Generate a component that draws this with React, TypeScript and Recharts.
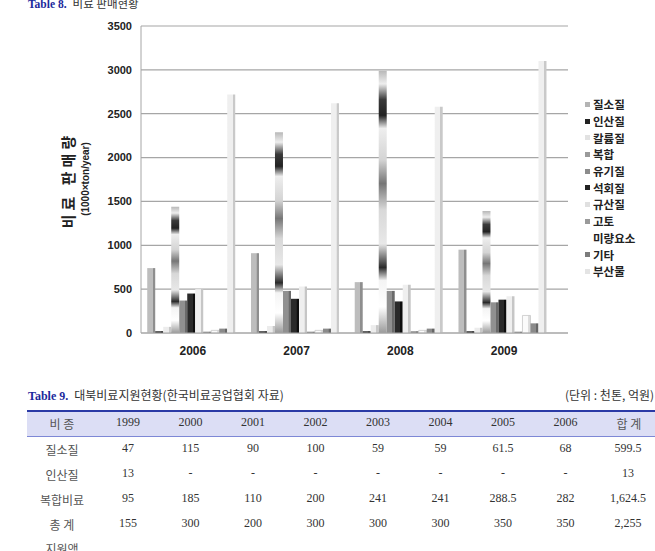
import React from 'react';
import { BarChart, Bar, XAxis, YAxis, CartesianGrid } from 'recharts';

// 비료 판매현황 (1000 ton / year)
const years = ['2006', '2007', '2008', '2009'];
const nitrogen = [740, 910, 580, 950];
const phosphate = [20, 20, 20, 20];
const potassium = [70, 80, 90, 60];
const compound = [1440, 2290, 2990, 1390];
const organic = [370, 480, 480, 350];
const lime = [450, 390, 360, 380];
const silicate = [500, 530, 550, 420];
const magnesia = [15, 15, 20, 15];
const trace = [30, 30, 30, 200];
const others = [50, 50, 50, 110];
const byproduct = [2720, 2620, 2580, 3100];
const yTicks = [0, 500, 1000, 1500, 2000, 2500, 3000, 3500];

// 대북비료지원현황
const tableYears = ['1999', '2000', '2001', '2002', '2003', '2004', '2005', '2006'];
const rowNitrogen = ['47', '115', '90', '100', '59', '59', '61.5', '68', '599.5'];
const rowPhosphate = ['13', '-', '-', '-', '-', '-', '-', '-', '13'];
const rowCompound = ['95', '185', '110', '200', '241', '241', '288.5', '282', '1,624.5'];
const rowTotal = ['155', '300', '200', '300', '300', '300', '350', '350', '2,255'];

const series = [
  { key: 'nitrogen', name: '질소질', values: nitrogen, fill: 'url(#gNitrogen)', swatch: '#b4b4b4' },
  { key: 'phosphate', name: '인산질', values: phosphate, fill: 'url(#gPhosphate)', swatch: '#222' },
  { key: 'potassium', name: '칼륨질', values: potassium, fill: 'url(#gPotassium)', swatch: '#e2e2e2' },
  { key: 'compound', name: '복합', values: compound, fill: 'url(#gCompound)', swatch: '#9a9a9a' },
  { key: 'organic', name: '유기질', values: organic, fill: 'url(#gOrganic)', swatch: '#8c8c8c' },
  { key: 'lime', name: '석회질', values: lime, fill: 'url(#gLime)', swatch: '#222' },
  { key: 'silicate', name: '규산질', values: silicate, fill: 'url(#gSilicate)', swatch: '#e0e0e0' },
  { key: 'magnesia', name: '고토', values: magnesia, fill: 'url(#gMagnesia)', swatch: '#9a9a9a' },
  { key: 'trace', name: '미량요소', values: trace, fill: 'url(#gTrace)', swatch: '#ffffff' },
  { key: 'others', name: '기타', values: others, fill: 'url(#gOthers)', swatch: '#7c7c7c' },
  { key: 'byproduct', name: '부산물', values: byproduct, fill: 'url(#gByproduct)', swatch: '#e4e4e4' },
];

const data = years.map((year, i) => {
  const row: Record<string, any> = { year };
  series.forEach((s) => {
    row[s.key] = s.values[i];
  });
  return row;
});

const KR = "'Noto Sans CJK KR', 'Noto Sans', sans-serif";
const SANS = "'Liberation Sans', Arial, sans-serif";
const SERIF = "'Liberation Serif', 'Times New Roman', serif";

// flat face with a darker strip on the right side
const sideShade = (id: string, base: string, side: string) => (
  <linearGradient id={id} key={id} x1="0" y1="0" x2="1" y2="0">
    <stop offset="0" stopColor={base} />
    <stop offset="0.68" stopColor={base} />
    <stop offset="0.72" stopColor={side} />
    <stop offset="1" stopColor={side} />
  </linearGradient>
);

const Legend = () => (
  <div style={{ position: 'absolute', left: 585, top: 96, fontFamily: KR, fontSize: 11.5, fontWeight: 700, color: '#222' }}>
    {series.map((s) => (
      <div key={s.key} style={{ height: 16.7, display: 'flex', alignItems: 'center' }}>
        <span style={{ width: 5, height: 5, background: s.swatch, marginRight: 3, display: 'inline-block' }} />
        <span>{s.name}</span>
      </div>
    ))}
  </div>
);

const cell = (text: string, center: number, font: string) => (
  <div
    key={center}
    style={{ position: 'absolute', left: center - 31, width: 62, textAlign: 'center', fontFamily: font, whiteSpace: 'nowrap' }}
  >
    {text}
  </div>
);

const colCenters = [62, 128, 190.5, 253, 315.5, 378, 440.5, 503, 565.5, 628];

const TableRow = ({ top, label, values }: { top: number; label: string; values: string[] }) => (
  <div style={{ position: 'absolute', left: 0, top, width: 655, height: 16, fontSize: 12, color: '#333' }}>
    <div style={{ position: 'absolute', left: 22, width: 80, textAlign: 'center', fontFamily: KR, color: '#555' }}>{label}</div>
    {values.map((v, i) => cell(v, colCenters[i + 1], SERIF))}
  </div>
);

export default function App() {
  return (
    <div style={{ position: 'absolute', left: 0, top: 0, width: 655, height: 551, overflow: 'hidden', background: '#fff' }}>
      <div style={{ position: 'absolute', left: 28, top: -5, fontSize: 11.5, whiteSpace: 'nowrap' }}>
        <span style={{ fontFamily: SERIF, fontWeight: 700, color: '#1c2a9c' }}>Table 8.</span>
        <span style={{ fontFamily: KR, color: '#333', marginLeft: 6 }}>비료 판매현황</span>
      </div>

      <div style={{ position: 'absolute', left: 0, top: 0 }}>
        <BarChart
          width={655}
          height={370}
          data={data}
          margin={{ top: 26, right: 87, bottom: 7, left: 91 }}
          barCategoryGap="6%"
          barGap={0}
        >
          <defs>
            {sideShade('gNitrogen', '#bdbdbd', '#8e8e8e')}
            {sideShade('gPhosphate', '#2e2e2e', '#111')}
            {sideShade('gPotassium', '#ececec', '#c8c8c8')}
            {sideShade('gOrganic', '#909090', '#6a6a6a')}
            {sideShade('gLime', '#2a2a2a', '#0e0e0e')}
            {sideShade('gSilicate', '#efefef', '#c6c6c6')}
            {sideShade('gMagnesia', '#8a8a8a', '#6e6e6e')}
            {sideShade('gTrace', '#fbfbfb', '#dedede')}
            {sideShade('gOthers', '#8a8a8a', '#666')}
            {sideShade('gByproduct', '#efefef', '#c9c9c9')}
            <linearGradient id="gCompound" x1="0" y1="0" x2="0" y2="1">
              <stop offset="0" stopColor="#b8b8b8" />
              <stop offset="0.05" stopColor="#eeeeee" />
              <stop offset="0.11" stopColor="#3a3a3a" />
              <stop offset="0.17" stopColor="#222" />
              <stop offset="0.22" stopColor="#eeeeee" />
              <stop offset="0.34" stopColor="#d4d4d4" />
              <stop offset="0.43" stopColor="#767676" />
              <stop offset="0.53" stopColor="#d8d8d8" />
              <stop offset="0.66" stopColor="#e8e8e8" />
              <stop offset="0.75" stopColor="#2a2a2a" />
              <stop offset="0.8" stopColor="#f4f4f4" />
              <stop offset="0.9" stopColor="#ffffff" />
              <stop offset="1" stopColor="#9a9a9a" />
            </linearGradient>
          </defs>
          <CartesianGrid vertical={false} stroke="#a6a6a6" strokeWidth={1.2} />
          <XAxis
            dataKey="year"
            padding={{ left: 0, right: 12 }}
            tickLine={false}
            tickSize={0}
            tickMargin={13}
            axisLine={{ stroke: '#a6a6a6' }}
            tick={{ fontSize: 12, fontWeight: 700, fill: '#222', fontFamily: SANS }}
          />
          <YAxis
            width={50}
            domain={[0, 3500]}
            ticks={yTicks}
            interval={0}
            tickLine={false}
            tickSize={0}
            tickMargin={9}
            axisLine={{ stroke: '#a6a6a6' }}
            tick={{ fontSize: 11, fontWeight: 700, fill: '#222', fontFamily: SANS }}
          />
          {series.map((s) => (
            <Bar
              key={s.key}
              dataKey={s.key}
              name={s.name}
              fill={s.fill}
              stroke={s.key === 'trace' ? '#c8c8c8' : undefined}
              strokeWidth={s.key === 'trace' ? 0.8 : 0}
              isAnimationActive={false}
            />
          ))}
        </BarChart>
      </div>

      <div
        style={{
          position: 'absolute',
          left: 67,
          top: 180,
          transform: 'translate(-50%, -50%) rotate(-90deg)',
          fontFamily: KR,
          fontSize: 15,
          fontWeight: 700,
          letterSpacing: 4,
          whiteSpace: 'nowrap',
          color: '#222',
        }}
      >
        비료 판매량
      </div>
      <div
        style={{
          position: 'absolute',
          left: 85,
          top: 179,
          transform: 'translate(-50%, -50%) rotate(-90deg)',
          fontFamily: SANS,
          fontSize: 10,
          fontWeight: 700,
          whiteSpace: 'nowrap',
          color: '#222',
        }}
      >
        (1000×ton/year)
      </div>

      <Legend />

      <div style={{ position: 'absolute', left: 28, top: 386, fontSize: 12, whiteSpace: 'nowrap' }}>
        <span style={{ fontFamily: SERIF, fontWeight: 700, color: '#1c2a9c' }}>Table 9.</span>
        <span style={{ fontFamily: KR, color: '#333', marginLeft: 6 }}>대북비료지원현황(한국비료공업협회 자료)</span>
      </div>
      <div style={{ position: 'absolute', left: 565, top: 386, fontFamily: KR, fontSize: 12, color: '#333', whiteSpace: 'nowrap' }}>
        (단위 : 천톤, 억원)
      </div>

      <div
        style={{
          position: 'absolute',
          left: 27,
          top: 410,
          width: 628,
          height: 24,
          background: '#dcdef5',
          borderTop: '2px solid #2b3aa6',
          borderBottom: '1px solid #7e88d6',
        }}
      />
      <div style={{ position: 'absolute', left: 0, top: 415, width: 655, fontSize: 12, color: '#333' }}>
        <div style={{ position: 'absolute', left: 22, width: 80, textAlign: 'center', fontFamily: KR, color: '#555' }}>비 종</div>
        {tableYears.map((y, i) => cell(y, colCenters[i + 1], SERIF))}
        <div style={{ position: 'absolute', left: 598, width: 62, textAlign: 'center', fontFamily: KR, color: '#555' }}>합 계</div>
      </div>

      <TableRow top={441} label="질소질" values={rowNitrogen} />
      <TableRow top={466} label="인산질" values={rowPhosphate} />
      <TableRow top={491} label="복합비료" values={rowCompound} />
      <TableRow top={516} label="총 계" values={rowTotal} />
      <TableRow top={540} label="지원액" values={[]} />
    </div>
  );
}
